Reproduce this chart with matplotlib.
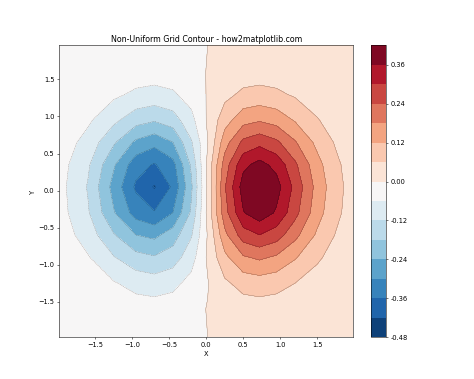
import numpy as np
import matplotlib
matplotlib.use("Agg")
import matplotlib.pyplot as plt

# non-uniform grid coordinates
x_pts = [-1.985, -1.6, -1.25, -0.95, -0.7, -0.45, -0.2, 0.02,
         0.25, 0.5, 0.72, 0.95, 1.2, 1.5, 1.75, 1.985]
y_pts = [-1.98, -1.6, -1.25, -0.9, -0.6, -0.3, 0.05, 0.35,
         0.65, 0.95, 1.3, 1.6, 1.96]

# values, one row per y
z_rows = [
    [-0.001, -0.003, -0.006, -0.009, -0.010, -0.008, -0.004, 0.000, 0.005, 0.009, 0.010, 0.009, 0.006, 0.004, 0.002, 0.001],
    [-0.003, -0.010, -0.020, -0.030, -0.033, -0.028, -0.015, 0.002, 0.018, 0.030, 0.033, 0.030, 0.022, 0.012, 0.006, 0.003],
    [-0.008, -0.026, -0.055, -0.081, -0.090, -0.077, -0.040, -0.003, 0.049, 0.082, 0.090, 0.081, 0.060, 0.033, 0.017, 0.007],
    [-0.017, -0.055, -0.117, -0.160, -0.175, -0.150, -0.085, 0.009, 0.105, 0.173, 0.191, 0.171, 0.126, 0.070, 0.036, 0.015],
    [-0.027, -0.087, -0.175, -0.240, -0.255, -0.210, -0.125, 0.004, 0.164, 0.271, 0.299, 0.269, 0.198, 0.110, 0.057, 0.024],
    [-0.036, -0.113, -0.235, -0.325, -0.355, -0.300, -0.170, 0.018, 0.215, 0.356, 0.398, 0.352, 0.260, 0.144, 0.075, 0.031],
    [-0.039, -0.124, -0.261, -0.370, -0.425, -0.350, -0.190, 0.010, 0.234, 0.388, 0.414, 0.384, 0.283, 0.158, 0.082, 0.034],
    [-0.035, -0.110, -0.232, -0.335, -0.365, -0.320, -0.170, 0.015, 0.208, 0.344, 0.380, 0.341, 0.251, 0.140, 0.073, 0.030],
    [-0.026, -0.081, -0.172, -0.252, -0.281, -0.241, -0.126, -0.002, 0.154, 0.255, 0.281, 0.252, 0.186, 0.104, 0.054, 0.022],
    [-0.016, -0.050, -0.106, -0.156, -0.174, -0.149, -0.078, 0.008, 0.095, 0.158, 0.174, 0.156, 0.115, 0.064, 0.033, 0.014],
    [-0.007, -0.023, -0.048, -0.071, -0.079, -0.068, -0.035, 0.004, 0.043, 0.072, 0.079, 0.071, 0.052, 0.029, 0.015, 0.006],
    [-0.003, -0.010, -0.020, -0.030, -0.033, -0.028, -0.015, 0.002, 0.018, 0.030, 0.033, 0.030, 0.022, 0.012, 0.006, 0.003],
    [-0.001, -0.002, -0.005, -0.008, -0.008, -0.007, -0.004, 0.000, 0.005, 0.008, 0.008, 0.008, 0.006, 0.003, 0.002, 0.001],
]

levels = np.linspace(-0.48, 0.42, 16)
cbar_ticks = [-0.48, -0.36, -0.24, -0.12, 0.00, 0.12, 0.24, 0.36]

X, Y = np.meshgrid(x_pts, y_pts)
Z = np.array(z_rows)

plt.figure(figsize=(10, 8), dpi=47.4)
cf = plt.contourf(X, Y, Z, levels=levels, cmap="RdBu_r")
plt.contour(X, Y, Z, levels=levels, colors="k", linewidths=0.5, alpha=0.5)
cb = plt.colorbar(cf)
cb.set_ticks(cbar_ticks)
cb.set_ticklabels([f"{t:.2f}" for t in cbar_ticks])
plt.title("Non-Uniform Grid Contour - how2matplotlib.com")
plt.xlabel("X")
plt.ylabel("Y")
plt.savefig("out.png")
